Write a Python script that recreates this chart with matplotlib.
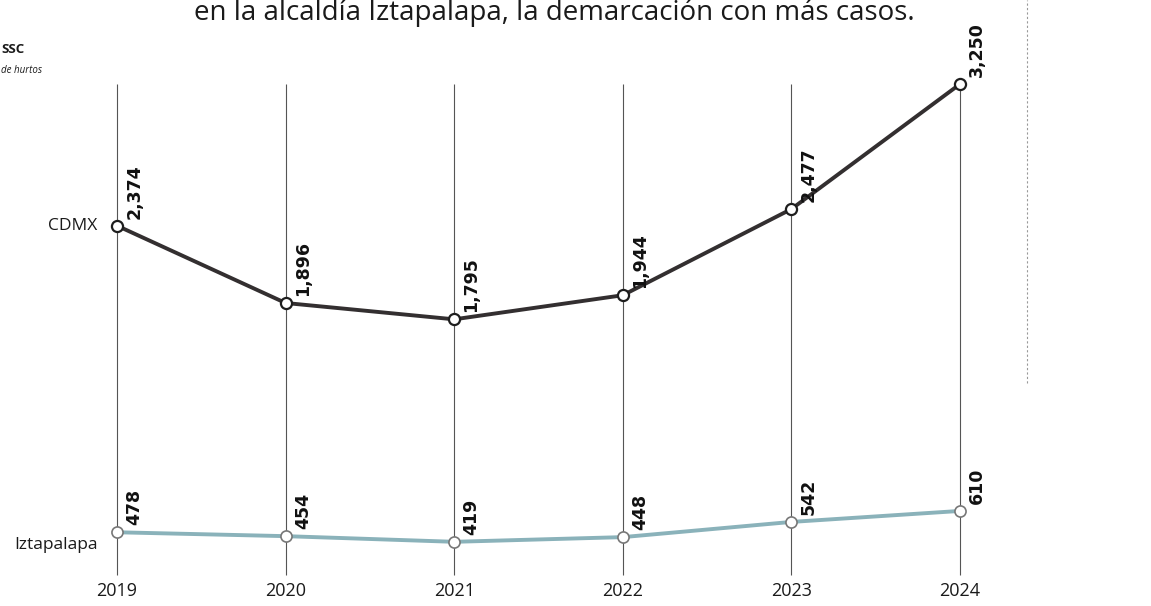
import matplotlib
matplotlib.use('Agg')
import matplotlib.pyplot as plt

years = [2019, 2020, 2021, 2022, 2023, 2024]
cdmx = [2374, 1896, 1795, 1944, 2477, 3250]
iztapalapa = [478, 454, 419, 448, 542, 610]
series_names = ['CDMX', 'Iztapalapa']

plt.rcParams['font.family'] = ['Open Sans', 'DejaVu Sans']

fig = plt.figure(figsize=(11.51, 6.06), dpi=100)
ax = fig.add_axes([0, 0, 1, 1])
ax.set_xlim(2018.306, 2025.133)
ax.set_ylim(22, 3770)
ax.axis('off')

# vertical guides per year
ax.vlines(years, 212, 3250, color='#555555', lw=0.8, zorder=1)

ax.plot(years, cdmx, color='#332f30', lw=2.8, zorder=3,
        marker='o', ms=8, mfc='white', mec='#1e1e1e', mew=1.6)
ax.plot(years, iztapalapa, color='#8ab2ba', lw=2.8, zorder=3,
        marker='o', ms=8, mfc='white', mec='#777777', mew=1.2)

for vals in (cdmx, iztapalapa):
    for x, v in zip(years, vals):
        ax.annotate(f'{v:,}', (x, v), xytext=(6, 5), textcoords='offset points',
                    rotation=90, ha='left', va='bottom', fontsize=12.5,
                    fontweight='bold', family='DejaVu Sans', color='#111111')

ax.annotate(series_names[0], (years[0], cdmx[0]), xytext=(-14, 0),
            textcoords='offset points', ha='right', va='center', fontsize=12.5,
            color='#1a1a1a')
ax.annotate(series_names[1], (years[0], iztapalapa[0]), xytext=(-14, -9),
            textcoords='offset points', ha='right', va='center', fontsize=12.5,
            color='#1a1a1a')

for x in years:
    ax.text(x, 112, str(x), ha='center', va='center', fontsize=13, color='#1a1a1a')

fig.text(0.482, 1.003, 'en la alcaldía Iztapalapa, la demarcación con más casos.',
         ha='center', va='top', fontsize=20, color='#1a1a1a')
fig.text(0.001, 0.918, 'SSC', ha='left', va='center', fontsize=9.5,
         fontweight='bold', color='#1a1a1a')
fig.text(0.001, 0.884, 'de hurtos', ha='left', va='center', fontsize=7,
         style='italic', color='#1a1a1a')

# column separator
ax.vlines(2024.40, 1400, 3770, color='#999999', lw=0.8, linestyles=(0, (2, 2)))

fig.savefig('out.png', dpi=100, facecolor='white')
